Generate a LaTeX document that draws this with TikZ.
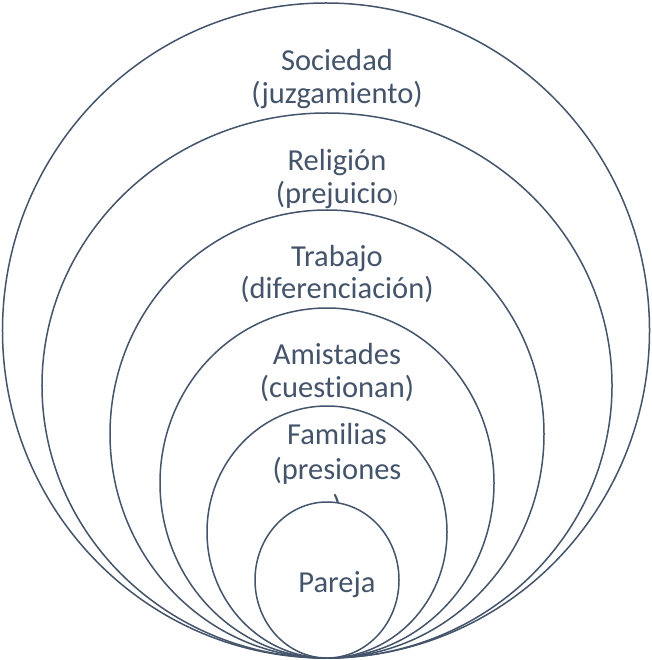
\documentclass[tikz,border=0pt]{standalone}
\usepackage{fontspec}
\setmainfont{Carlito}[Ligatures={NoCommon}]
\definecolor{slate}{HTML}{44546A}
\begin{document}
\begin{tikzpicture}[x=1bp,y=-1bp,
  ring/.style={draw=slate, line width=1.5bp, fill=white},
  lbl/.style={text=slate, font=\fontsize{30.5bp}{33bp}\selectfont, anchor=base, inner sep=0pt}]
\useasboundingbox (0,0) rectangle (652,660);
\clip (0,0) rectangle (652,660);
\fill[white] (0,0) rectangle (652,660);
% Sociedad
\draw[ring] (326,330.5) ellipse [x radius=323.5bp, y radius=327.5bp];
\node[lbl] (soc) at (337,71) {Sociedad};
\node[lbl] (socb) at (337,104) {(juzgamiento)};
% Religion
\draw[ring] (327,385.5) ellipse [x radius=285bp, y radius=272.5bp];
\node[lbl] (rel) at (337,170) {Religión};
\node[lbl] (relb) at (337,203) {(prejuicio{\fontsize{18bp}{20bp}\selectfont)}};
% Trabajo
\draw[ring] (327,434) ellipse [x radius=217bp, y radius=224bp];
\node[lbl] (tra) at (337,266) {Trabajo};
\node[lbl] (trab) at (337,298) {(diferenciación)};
% Amistades
\draw[ring] (327,483) ellipse [x radius=167bp, y radius=175bp];
\node[lbl] (ami) at (337,364) {Amistades};
\node[lbl] (amib) at (337,397) {(cuestionan)};
% Familias
\draw[ring] (327,532) ellipse [x radius=120bp, y radius=126bp];
\node[lbl] (fam) at (337,444) {Familias};
\node[lbl] (famb) at (337,479) {(presiones};
\node[lbl] (famc) at (337,516) {)};
% Pareja
\draw[ring] (327,580) ellipse [x radius=72bp, y radius=78bp];
\node[lbl] (par) at (337,592) {Pareja};
\end{tikzpicture}
\end{document}
